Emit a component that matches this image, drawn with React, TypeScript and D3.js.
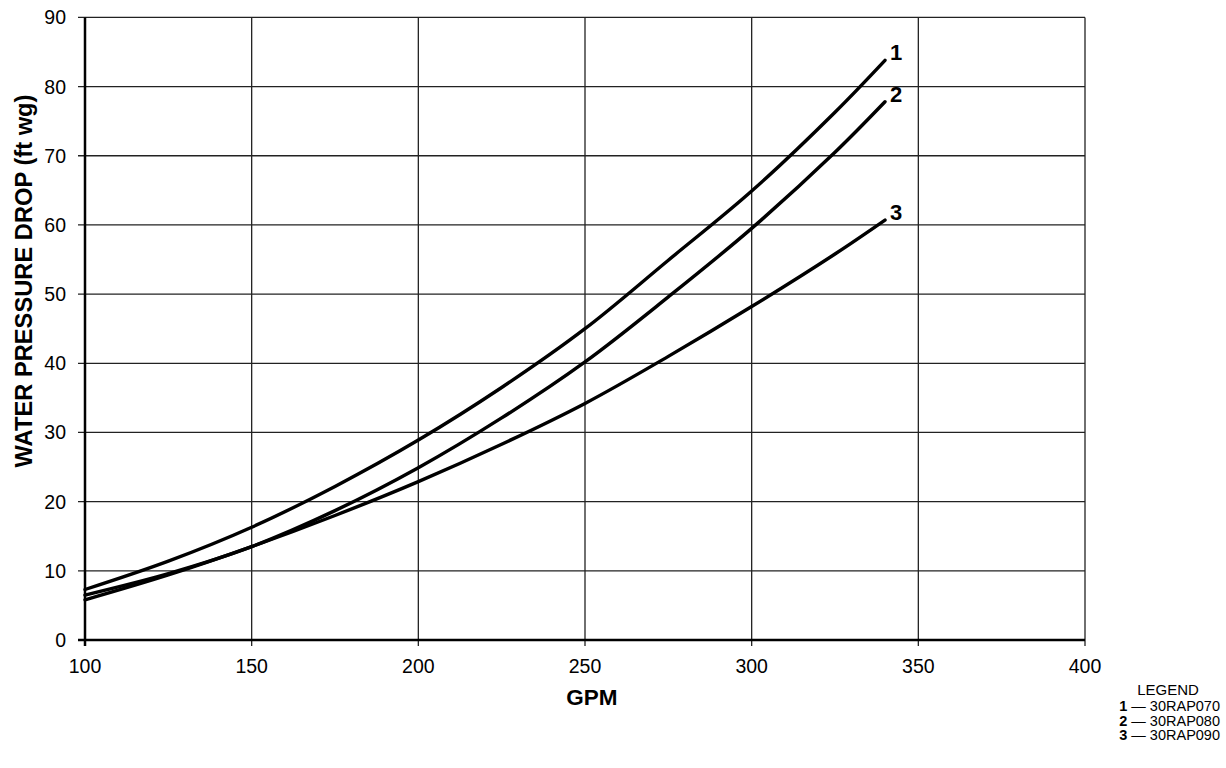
import React from "react";
import * as d3 from "d3";

const gpm = [100, 125, 150, 175, 200, 225, 250, 275, 300, 325, 340];
const rap070 = [7.3, 11.4, 16.3, 22.2, 28.9, 36.5, 45.0, 54.9, 64.9, 76.3, 83.8];
const rap080 = [6.5, 9.6, 13.5, 18.7, 24.9, 32.1, 40.2, 49.6, 59.5, 70.5, 77.8];
const rap090 = [5.8, 9.4, 13.5, 18.0, 22.9, 28.3, 34.2, 41.0, 48.2, 55.8, 60.7];
const seriesLabels = ["1", "2", "3"];
const legendNames = ["30RAP070", "30RAP080", "30RAP090"];
const xTicks = [100, 150, 200, 250, 300, 350, 400];
const yTicks = [0, 10, 20, 30, 40, 50, 60, 70, 80, 90];

const W = 1226;
const H = 768;
const left = 85;
const right = 1085;
const top = 17.4;
const bottom = 640;

export default function App() {
  const x = d3.scaleLinear().domain([100, 400]).range([left, right]);
  const y = d3.scaleLinear().domain([0, 90]).range([bottom, top]);
  const series = [rap070, rap080, rap090];
  const line = d3
    .line<[number, number]>()
    .x((d) => x(d[0]))
    .y((d) => y(d[1]))
    .curve(d3.curveCatmullRom.alpha(0.5));
  const font = "'Liberation Sans', Arial, Helvetica, sans-serif";

  return (
    <svg
      width={W}
      height={H}
      style={{ position: "absolute", left: 0, top: 0, background: "#fff" }}
      fontFamily={font}
    >
      <rect x={0} y={0} width={W} height={H} fill="#fff" />
      {/* grid */}
      {xTicks.map((t) => (
        <line key={"gx" + t} x1={x(t)} x2={x(t)} y1={y(90)} y2={y(0) + 6} stroke="#222" strokeWidth={1.3} />
      ))}
      {yTicks.map((t) => (
        <line key={"gy" + t} x1={x(100) - 7} x2={x(400)} y1={y(t)} y2={y(t)} stroke="#222" strokeWidth={1.3} />
      ))}
      {/* axes */}
      <line x1={x(100)} x2={x(100)} y1={y(90)} y2={y(0) + 6} stroke="#000" strokeWidth={2.5} />
      <line x1={x(100) - 7} x2={x(400)} y1={y(0)} y2={y(0)} stroke="#000" strokeWidth={2.5} />
      {/* tick labels */}
      {yTicks.map((t) => (
        <text key={"ty" + t} x={66} y={y(t)} dy="0.36em" textAnchor="end" fontSize={19.5} fill="#000">
          {t}
        </text>
      ))}
      {xTicks.map((t) => (
        <text key={"tx" + t} x={x(t)} y={673} textAnchor="middle" fontSize={19.5} fill="#000">
          {t}
        </text>
      ))}
      {/* axis titles */}
      <text x={592} y={705} textAnchor="middle" fontSize={22.5} fontWeight="bold">
        GPM
      </text>
      <text
        transform={`translate(32, 281) rotate(-90)`}
        textAnchor="middle"
        fontSize={23.7}
        fontWeight="bold"
      >
        WATER PRESSURE DROP (ft wg)
      </text>
      {/* curves */}
      {series.map((s, i) => {
        const pts = gpm.map((g, j) => [g, s[j]] as [number, number]);
        return (
          <g key={"s" + i}>
            <path d={line(pts) || ""} fill="none" stroke="#000" strokeWidth={3.4} strokeLinecap="round" />
            <text
              x={x(gpm[gpm.length - 1]) + 5}
              y={y(s[s.length - 1])}
              fontSize={22}
              fontWeight="bold"
            >
              {seriesLabels[i]}
            </text>
          </g>
        );
      })}
      {/* legend */}
      <text x={1168} y={695} textAnchor="middle" fontSize={15}>
        LEGEND
      </text>
      {legendNames.map((n, i) => (
        <text key={"lg" + i} x={1220} y={711 + i * 14.5} textAnchor="end" fontSize={14.5}>
          <tspan fontWeight="bold">{seriesLabels[i]}</tspan>
          <tspan> — {n}</tspan>
        </text>
      ))}
    </svg>
  );
}
